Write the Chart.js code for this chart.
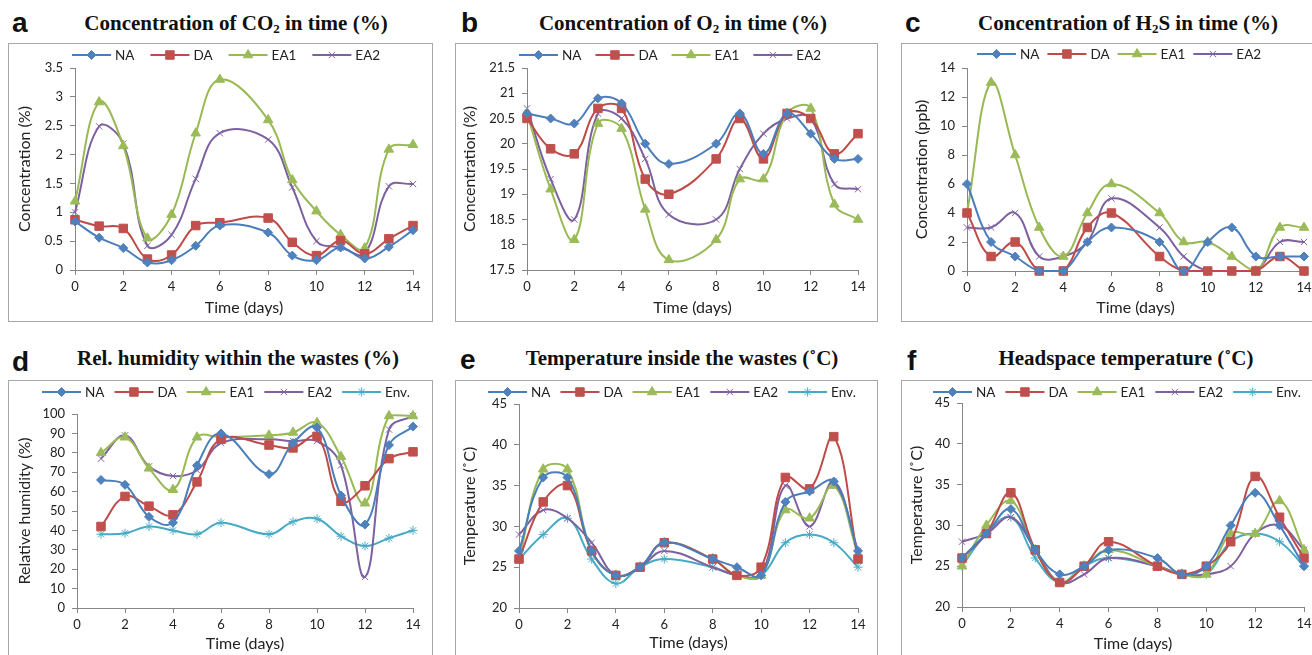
<!DOCTYPE html>
<html>
<head>
<meta charset="utf-8">
<script src="https://cdn.jsdelivr.net/npm/chart.js@4.4.0/dist/chart.umd.min.js"></script>
<style>
  body { margin: 0; width: 1312px; height: 655px; overflow: hidden; background: #fff; position: relative; }
  .frame { position: absolute; border: 1px solid #a8a8a8; box-sizing: border-box; }
  canvas { position: absolute; }
  .title { position: absolute; width: 500px; text-align: center; white-space: nowrap;
           font: bold 21px "Liberation Serif", serif; line-height: 21px; color: #111; }
  .title .sub { font-size: 13px; position: relative; top: 3px; }
  .letter { position: absolute; font: bold 28px "Liberation Sans", Arial, sans-serif; line-height: 28px; color: #111; }
</style>
</head>
<body>

<div class="letter" style="left:12px; top:9px">a</div>
<div class="title" style="left:-14px; top:13px">Concentration of CO<span class="sub">2</span> in time (%)</div>
<div class="frame" style="left:8px; top:43px; width:425px; height:279px"></div>
<canvas id="co2Chart" width="425" height="279" style="left:8px; top:43px"></canvas>

<div class="letter" style="left:461px; top:9px">b</div>
<div class="title" style="left:433px; top:13px">Concentration of O<span class="sub">2</span> in time (%)</div>
<div class="frame" style="left:455px; top:43px; width:423px; height:279px"></div>
<canvas id="o2Chart" width="423" height="279" style="left:455px; top:43px"></canvas>

<div class="letter" style="left:905px; top:9px">c</div>
<div class="title" style="left:878px; top:13px">Concentration of H<span class="sub">2</span>S in time (%)</div>
<div class="frame" style="left:901px; top:43px; width:440px; height:279px"></div>
<canvas id="h2sChart" width="440" height="279" style="left:901px; top:43px"></canvas>

<div class="letter" style="left:12px; top:348px">d</div>
<div class="title" style="left:-12px; top:348px">Rel. humidity within the wastes (%)</div>
<div class="frame" style="left:8px; top:380px; width:425px; height:290px"></div>
<canvas id="rhChart" width="425" height="290" style="left:8px; top:380px"></canvas>

<div class="letter" style="left:460px; top:346px">e</div>
<div class="title" style="left:432px; top:348px">Temperature inside the wastes (˚C)</div>
<div class="frame" style="left:455px; top:380px; width:423px; height:290px"></div>
<canvas id="tinChart" width="423" height="290" style="left:455px; top:380px"></canvas>

<div class="letter" style="left:907px; top:347px">f</div>
<div class="title" style="left:876px; top:348px">Headspace temperature (˚C)</div>
<div class="frame" style="left:901px; top:380px; width:440px; height:290px"></div>
<canvas id="thChart" width="440" height="290" style="left:901px; top:380px"></canvas>

<script>
// sampling days (no reading on day 7); humidity starts on day 1
const days = [0, 1, 2, 3, 4, 5, 6, 8, 9, 10, 11, 12, 13, 14];
const rhDays = [1, 2, 3, 4, 5, 6, 8, 9, 10, 11, 12, 13, 14];

// CO2 (%)
const co2NA  = [0.84, 0.56, 0.38, 0.13, 0.17, 0.42, 0.77, 0.65, 0.25, 0.17, 0.39, 0.2, 0.4, 0.69];
const co2DA  = [0.87, 0.76, 0.72, 0.19, 0.26, 0.77, 0.82, 0.9, 0.48, 0.25, 0.51, 0.28, 0.54, 0.77];
const co2EA1 = [1.19, 2.91, 2.15, 0.55, 0.96, 2.37, 3.3, 2.6, 1.56, 1.02, 0.61, 0.38, 2.09, 2.17];
const co2EA2 = [1.0, 2.49, 2.19, 0.42, 0.61, 1.58, 2.37, 2.26, 1.43, 0.5, 0.39, 0.29, 1.45, 1.49];

// O2 (%)
const o2NA  = [20.6, 20.5, 20.4, 20.9, 20.8, 20.0, 19.6, 20.0, 20.6, 19.8, 20.6, 20.2, 19.7, 19.7];
const o2DA  = [20.5, 19.9, 19.8, 20.7, 20.7, 19.3, 19.0, 19.7, 20.5, 19.7, 20.6, 20.5, 19.8, 20.2];
const o2EA1 = [20.6, 19.1, 18.1, 20.4, 20.3, 18.7, 17.7, 18.1, 19.3, 19.3, 20.6, 20.7, 18.8, 18.5];
const o2EA2 = [20.7, 19.3, 18.5, 20.6, 20.5, 19.7, 18.6, 18.5, 19.5, 20.2, 20.5, 20.5, 19.2, 19.1];

// H2S (ppb)
const h2sNA  = [6, 2, 1, 0, 0, 2, 3, 2, 0, 2, 3, 1, 1, 1];
const h2sDA  = [4, 1, 2, 0, 0, 3, 4, 1, 0, 0, 0, 0, 1, 0];
const h2sEA1 = [4, 13, 8, 3, 1, 4, 6, 4, 2, 2, 1, 0, 3, 3];
const h2sEA2 = [3, 3, 4, 1, 1, 2, 5, 3, 1, 0, 0, 0, 2, 2];

// relative humidity (%)
const rhNA  = [66, 63.5, 47, 44, 73.5, 90, 69, 85, 93, 58, 43, 84, 93.5];
const rhDA  = [42, 57.5, 52.5, 48, 65, 87, 84, 82.5, 88.5, 55, 63, 77, 80.5];
const rhEA1 = [80, 88, 72, 61, 88, 88, 89, 90.5, 95.5, 78, 54, 99, 99];
const rhEA2 = [77, 89, 73, 68, 71, 85, 87, 86, 86, 73.5, 16, 92, 99];
const rhEnv = [38, 38.5, 42, 40, 38, 44, 38, 44.5, 46, 37, 32, 36, 40];

// temperature inside the wastes (°C)
const tinNA  = [27, 36, 36, 27, 24, 25, 28, 26, 25, 24, 33, 34.3, 35.5, 27];
const tinDA  = [26, 33, 35, 27, 24, 25, 28, 26, 24, 25, 36, 34.6, 41, 26];
const tinEA1 = [26, 37, 37, 27, 24, 25, 28, 26, 24, 24, 32, 31, 35, 26.5];
const tinEA2 = [29, 32, 31, 28, 24, 25, 27, 25, 24, 24, 35, 30, 35.5, 27];
const tinEnv = [26, 29, 31, 26, 23, 25, 26, 25, 24, 24, 28, 29, 28, 25];

// headspace temperature (°C)
const thNA  = [26, 29, 32, 27, 24, 25, 27, 26, 24, 25, 30, 34, 30, 25];
const thDA  = [26, 29, 34, 27, 23, 25, 28, 25, 24, 25, 28, 36, 31, 26];
const thEA1 = [25, 30, 33, 27, 23, 25, 27, 25, 24, 24, 29, 29, 33, 27];
const thEA2 = [28, 29, 31, 27, 23, 24, 26, 25, 24, 24, 25, 29, 30, 27];
const thEnv = [25, 29, 31, 26, 23, 25, 26, 25, 24, 24, 28, 29, 28, 25];

const seriesNames  = ['NA', 'DA', 'EA1', 'EA2', 'Env.'];
const lineColors   = ['#4a7ebb', '#be4b48', '#98b954', '#7d60a0', '#46aac5'];
const markerColors = ['#4f81bd', '#c0504d', '#9bbb59', '#8064a2', '#4bacc6'];
const markerStyles = ['rectRot', 'rect', 'triangle', 'crossRot', 'star'];
const markerSizes  = [4.5, 6, 5.5, 4.5, 4.5];

const axisColor = '#868686';
const textColor = '#222';
const tickFont = { family: 'Lato', size: 13 };
const axisTitleFont = { family: 'Lato', size: 16 };

// legend row: short line with the marker on it, then the series name
const lineKey = {
  id: 'lineKey',
  afterDraw(chart, args, opts) {
    const ctx = chart.ctx;
    let x = opts.x;
    ctx.save();
    ctx.font = '13.5px Lato';
    ctx.textBaseline = 'middle';
    chart.data.datasets.forEach(ds => {
      ctx.strokeStyle = ds.borderColor;
      ctx.lineWidth = 2;
      ctx.beginPath();
      ctx.moveTo(x, opts.y);
      ctx.lineTo(x + 39, opts.y);
      ctx.stroke();
      ctx.fillStyle = ds.pointBackgroundColor;
      ctx.strokeStyle = ds.pointBorderColor;
      ctx.lineWidth = 1;
      Chart.helpers.drawPoint(ctx, { pointStyle: ds.pointStyle, radius: ds.pointRadius, rotation: 0, borderWidth: 1 }, x + 19.5, opts.y);
      ctx.fillStyle = textColor;
      ctx.fillText(ds.label, x + 43, opts.y + 1);
      x += 43 + ctx.measureText(ds.label).width + opts.gap;
    });
    ctx.restore();
  }
};

function makeChart(id, p) {
  const canvas = document.getElementById(id);
  const w = canvas.width, h = canvas.height;
  const [pl, pt, pr, pb] = p.plot;
  const xH = p.xTitleY - pb + 9.6;
  const datasets = p.series.map((vals, i) => ({
    label: seriesNames[i],
    data: vals.map((v, k) => ({ x: p.x[k], y: v })),
    borderColor: lineColors[i],
    borderWidth: 2,
    tension: 0.4,
    pointStyle: markerStyles[i],
    pointRadius: markerSizes[i],
    pointBackgroundColor: markerColors[i],
    pointBorderColor: markerColors[i],
    pointBorderWidth: 1,
    clip: false
  }));
  return new Chart(canvas, {
    type: 'line',
    data: { datasets },
    options: {
      responsive: false,
      animation: false,
      events: [],
      layout: { padding: { left: 0, top: pt, right: w - pr, bottom: h - pb - xH } },
      plugins: {
        legend: { display: false },
        tooltip: { enabled: false },
        lineKey: { x: p.keyX, y: p.keyY, gap: p.keyGap }
      },
      scales: {
        x: {
          type: 'linear', min: 0, max: 14,
          afterFit: s => { s.height = xH; s.paddingLeft = 0; s.paddingRight = 0; },
          ticks: { stepSize: 2, padding: 4, font: tickFont, color: textColor, maxRotation: 0 },
          grid: { drawOnChartArea: false, tickLength: 5, color: axisColor },
          border: { color: axisColor },
          title: { display: true, text: 'Time (days)', font: axisTitleFont, color: textColor, padding: 0 }
        },
        y: {
          min: p.yMin, max: p.yMax,
          afterFit: s => { s.width = pl; s.paddingTop = 0; s.paddingBottom = 0; },
          ticks: { stepSize: p.yStep, padding: 7, font: tickFont, color: textColor,
                   callback: v => String(Math.round(v * 100) / 100) },
          grid: { drawOnChartArea: false, tickLength: 5, color: axisColor },
          border: { color: axisColor },
          title: { display: true, text: p.yTitle, font: axisTitleFont, color: textColor,
                   padding: { top: p.yTitleX - 9.6, bottom: 0 } }
        }
      }
    },
    plugins: [lineKey]
  });
}

makeChart('co2Chart', {
  x: days, series: [co2NA, co2DA, co2EA1, co2EA2],
  yMin: 0, yMax: 3.5, yStep: 0.5, yTitle: 'Concentration (%)',
  plot: [67, 25, 405, 227], yTitleX: 17, xTitleY: 265, keyX: 64, keyY: 12, keyGap: 16
});
makeChart('o2Chart', {
  x: days, series: [o2NA, o2DA, o2EA1, o2EA2],
  yMin: 17.5, yMax: 21.5, yStep: 0.5, yTitle: 'Concentration (%)',
  plot: [72, 25, 403, 227], yTitleX: 15, xTitleY: 265, keyX: 64, keyY: 12, keyGap: 14
});
makeChart('h2sChart', {
  x: days, series: [h2sNA, h2sDA, h2sEA1, h2sEA2],
  yMin: 0, yMax: 14, yStep: 2, yTitle: 'Concentration (ppb)',
  plot: [66, 25, 403, 228], yTitleX: 21, xTitleY: 265, keyX: 76, keyY: 11, keyGap: 8
});
makeChart('rhChart', {
  x: rhDays, series: [rhNA, rhDA, rhEA1, rhEA2, rhEnv],
  yMin: 0, yMax: 100, yStep: 10, yTitle: 'Relative humidity (%)',
  plot: [69, 34, 405, 228], yTitleX: 17, xTitleY: 264, keyX: 34, keyY: 12, keyGap: 10
});
makeChart('tinChart', {
  x: days, series: [tinNA, tinDA, tinEA1, tinEA2, tinEnv],
  yMin: 20, yMax: 45, yStep: 5, yTitle: 'Temperature (˚C)',
  plot: [64, 24, 403, 228], yTitleX: 15, xTitleY: 263, keyX: 33, keyY: 12, keyGap: 10
});
makeChart('thChart', {
  x: days, series: [thNA, thDA, thEA1, thEA2, thEnv],
  yMin: 20, yMax: 45, yStep: 5, yTitle: 'Temperature (˚C)',
  plot: [61, 23, 403, 227], yTitleX: 16, xTitleY: 264, keyX: 32, keyY: 12, keyGap: 10
});
</script>
</body>
</html>
